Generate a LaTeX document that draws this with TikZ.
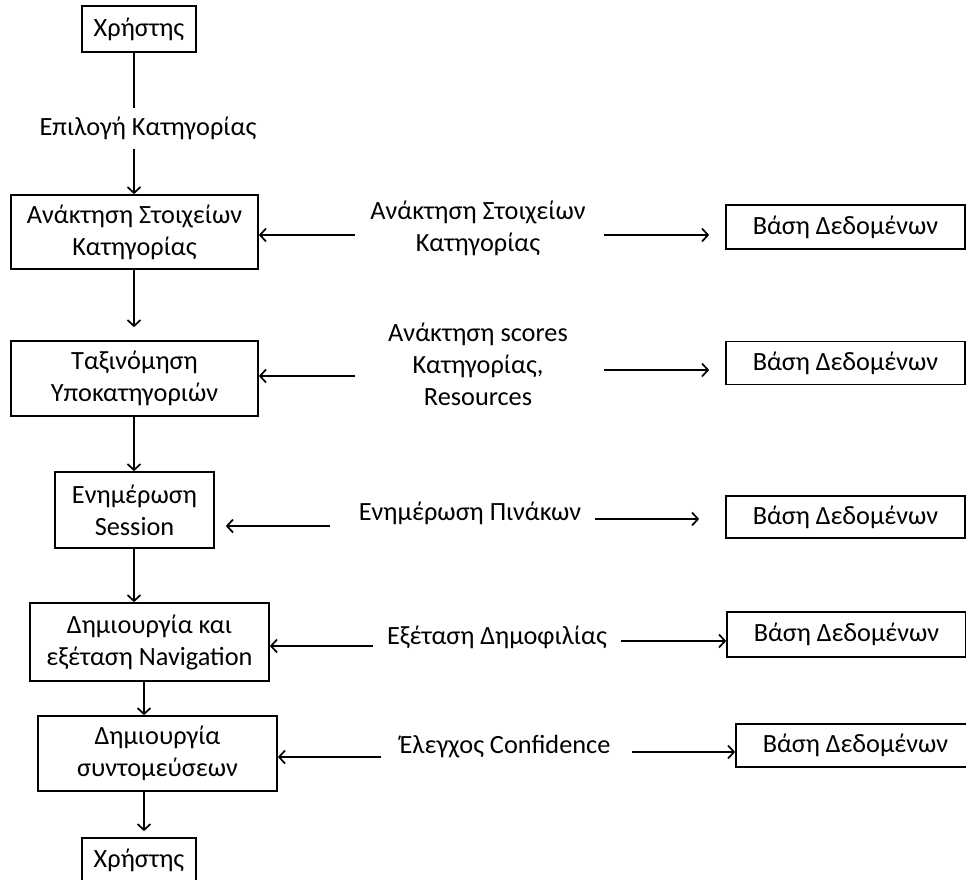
\documentclass[tikz,border=0pt]{standalone}
\usepackage{fontspec}
\setmainfont{Carlito}
\usepackage{tikz}
\usetikzlibrary{arrows.meta}

\tikzset{
  kouti/.style={draw, line width=1.7pt, align=center, inner sep=0pt},
  keimeno/.style={align=center, inner sep=2pt},
  grammi/.style={line width=1.7pt},
  pil/.style={line width=1.7pt, -{Straight Barb[length=6pt,width=13pt]}}
}

\begin{document}
\begin{tikzpicture}[x=1pt,y=-1pt,font=\fontsize{26.3}{32}\selectfont]
   	\useasboundingbox (0,0) rectangle (966,879);

	%Kouti xristis (pano)
   	\node[kouti, minimum width=114pt, minimum height=46pt] (xr1) at (139,29) {Χρήστης};
   	\node[keimeno] (lbl0) at (148,128) {Επιλογή Κατηγορίας};

	%Koutia aristera
   	\node[kouti, minimum width=247pt, minimum height=74pt] (b1) at (134.5,232) {Ανάκτηση Στοιχείων\\Κατηγορίας};
   	\node[kouti, minimum width=247pt, minimum height=75pt] (b2) at (134.5,378.5) {Ταξινόμηση\\Υποκατηγοριών};
   	\node[kouti, minimum width=159pt, minimum height=76pt] (b3) at (134.5,510) {Ενημέρωση\\Session};
   	\node[kouti, minimum width=239pt, minimum height=78pt] (b4) at (149.5,642) {Δημιουργία και\\εξέταση Navigation};
   	\node[kouti, minimum width=239pt, minimum height=75pt] (b5) at (157.5,753.5) {Δημιουργία\\συντομεύσεων};

	%Kouti xristis (kato)
   	\node[kouti, minimum width=114pt, minimum height=44pt] (xr2) at (139,860) {Χρήστης};

	%Etiketes sti mesi
   	\node[keimeno] (lbl1) at (478,228) {Ανάκτηση Στοιχείων\\Κατηγορίας};
   	\node[keimeno] (lbl2) at (478,364) {Ανάκτηση scores\\Κατηγορίας,\\Resources};
   	\node[keimeno] (lbl3) at (470,513) {Ενημέρωση Πινάκων};
   	\node[keimeno] (lbl4) at (497,637) {Εξέταση Δημοφιλίας};
   	\node[keimeno] (lbl5) at (505,747) {Έλεγχος Confidence};

	%Vaseis dedomenon (dexia)
   	\node[kouti, minimum width=239pt, minimum height=44pt] (db1) at (845.5,227) {Βάση Δεδομένων};
   	\node[kouti, minimum width=239pt, minimum height=43pt] (db2) at (845.5,363) {Βάση Δεδομένων};
   	\node[kouti, minimum width=239pt, minimum height=42pt] (db3) at (845.5,517) {Βάση Δεδομένων};
   	\node[kouti, minimum width=239pt, minimum height=45pt] (db4) at (846.5,634.5) {Βάση Δεδομένων};
   	\node[kouti, minimum width=239pt, minimum height=43pt] (db5) at (855.5,745.5) {Βάση Δεδομένων};

	%Kathetes grammes
   	\coordinate (k1) at (134,0);
   	\coordinate (k2) at (144,0);
   	\draw[grammi, shorten >=6pt] (xr1.south -| k1) -- (lbl0.north -| k1);
   	\draw[pil, shorten <=7pt] (lbl0.south -| k1) -- (b1.north -| k1);
   	\draw[pil, shorten >=13pt] (b1.south -| k1) -- (b2.north -| k1);
   	\draw[pil] (b2.south -| k1) -- (b3.north -| k1);
   	\draw[pil] (b3.south -| k1) -- (b4.north -| k1);
   	\draw[pil] (b4.south -| k2) -- (b5.north -| k2);
   	\draw[pil, shorten >=6pt] (b5.south -| k2) -- (xr2.north -| k2);

	%Velh pros ta aristera
   	\coordinate (a1) at (355,235);
   	\coordinate (a2) at (355,376);
   	\coordinate (a3) at (330,526);
   	\coordinate (a4) at (373,646);
   	\coordinate (a5) at (381,757);
   	\draw[pil] (a1) -- (a1 -| b1.east);
   	\draw[pil] (a2) -- (a2 -| b2.east);
   	\draw[pil, shorten >=11pt] (a3) -- (a3 -| b3.east);
   	\draw[pil] (a4) -- (a4 -| b4.east);
   	\draw[pil] (a5) -- (a5 -| b5.east);

	%Velh pros ta dexia
   	\coordinate (c1) at (604,235);
   	\coordinate (c2) at (604,370);
   	\coordinate (c3) at (595,519);
   	\coordinate (c4) at (621,641);
   	\coordinate (c5) at (632,752);
   	\draw[pil, shorten >=16pt] (c1) -- (c1 -| db1.west);
   	\draw[pil, shorten >=16pt] (c2) -- (c2 -| db2.west);
   	\draw[pil, shorten >=26pt] (c3) -- (c3 -| db3.west);
   	\draw[pil] (c4) -- (c4 -| db4.west);
   	\draw[pil] (c5) -- (c5 -| db5.west);
\end{tikzpicture}
\end{document}
